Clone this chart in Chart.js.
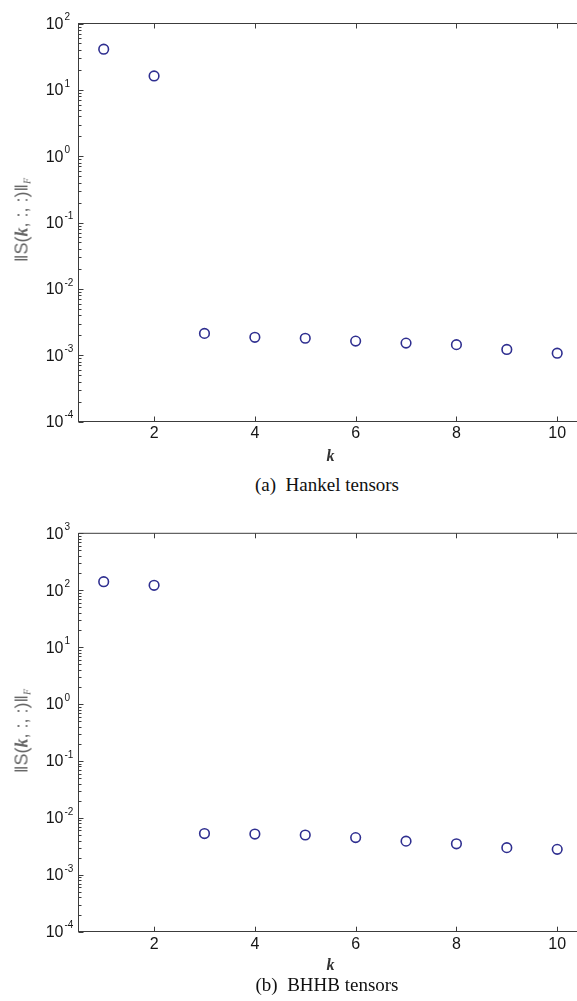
<!DOCTYPE html>
<html>
<head>
<meta charset="utf-8">
<script src="https://cdn.jsdelivr.net/npm/chart.js@4.4.1/dist/chart.umd.min.js"></script>
<style>
  html, body { margin:0; padding:0; background:#fff; }
  body { width:577px; height:1001px; overflow:hidden; position:relative; }
  canvas { position:absolute; left:0; }
  .ylab { position:absolute; left:22px; white-space:nowrap; font-family:"Liberation Sans", Arial, sans-serif;
          font-size:18px; color:#666; transform:translate(-50%,-50%) rotate(-90deg); }
  .ylab i { font-family:"Liberation Serif", serif; font-weight:bold; }
  .ylab sub { font-size:10px; font-style:italic; font-family:"Liberation Serif", serif; vertical-align:-3px; }
  .cap { position:absolute; left:327px; transform:translate(-50%,-50%); white-space:nowrap;
         font-family:"Liberation Serif", "Times New Roman", serif; font-size:19px; color:#111; }
</style>
</head>
<body>
<canvas id="c1" width="600" height="470" style="top:0"></canvas>
<div class="ylab" style="top:220px">‖S(<i>k</i>, :, :)‖<sub>F</sub></div>
<div class="cap" style="top:485px">(a)&nbsp; Hankel tensors</div>

<canvas id="c2" width="600" height="480" style="top:500px"></canvas>
<div class="ylab" style="top:731px">‖S(<i>k</i>, :, :)‖<sub>F</sub></div>
<div class="cap" style="top:985px">(b)&nbsp; BHHB tensors</div>

<script>
// ---- data ----
const K_VALUES = [1, 2, 3, 4, 5, 6, 7, 8, 9, 10];
const HANKEL_NORMS = [41, 16.2, 2.13e-3, 1.86e-3, 1.80e-3, 1.63e-3, 1.52e-3, 1.44e-3, 1.22e-3, 1.07e-3];
const BHHB_NORMS = [141, 122, 5.3e-3, 5.2e-3, 5.0e-3, 4.5e-3, 3.9e-3, 3.5e-3, 3.0e-3, 2.8e-3];
const X_TICKS = [2, 4, 6, 8, 10];
const Y_EXPONENTS_A = [-4, -3, -2, -1, 0, 1, 2];
const Y_EXPONENTS_B = [-4, -3, -2, -1, 0, 1, 2, 3];

const AXIS_COLOR = '#3c3c3c';
const MARKER_COLOR = '#2f2f90';
const LABEL_COLOR = '#151515';
const SANS = '"Liberation Sans", Arial, sans-serif';

const frameTicks = {
  id: 'frameTicks',
  afterDraw(chart) {
    const { ctx, chartArea: a, scales: { x, y } } = chart;
    ctx.save();
    ctx.strokeStyle = AXIS_COLOR;
    ctx.lineWidth = 1;
    ctx.beginPath();
    ctx.moveTo(a.left, a.top); ctx.lineTo(a.right, a.top); ctx.lineTo(a.right, a.bottom);
    ctx.stroke();
    ctx.beginPath();
    x.ticks.forEach(t => {
      const px = Math.round(x.getPixelForValue(t.value)) + 0.5;
      ctx.moveTo(px, a.bottom); ctx.lineTo(px, a.bottom - 5);
      ctx.moveTo(px, a.top); ctx.lineTo(px, a.top + 5);
    });
    y.ticks.forEach(t => {
      const py = Math.round(y.getPixelForValue(t.value)) + 0.5;
      const len = t.major ? 5 : 3;
      ctx.moveTo(a.left, py); ctx.lineTo(a.left + len, py);
      ctx.moveTo(a.right, py); ctx.lineTo(a.right - len, py);
    });
    ctx.stroke();
    // decade labels 10^n
    ctx.fillStyle = LABEL_COLOR;
    y.ticks.filter(t => t.major).forEach(t => {
      const py = y.getPixelForValue(t.value);
      const e = Math.round(Math.log10(t.value));
      ctx.font = '16px ' + SANS;
      ctx.textAlign = 'right'; ctx.textBaseline = 'middle';
      ctx.fillText('10', a.left - 15, py + 1);
      ctx.font = '10px ' + SANS;
      ctx.textAlign = 'left';
      ctx.fillText(String(e), a.left - 14, py - 6);
    });
    ctx.restore();
  }
};

function makeChart(id, values, exps, pad, tickPad, titlePad) {
  const yMin = Math.pow(10, exps[0]);
  const yMax = Math.pow(10, exps[exps.length - 1]);
  return new Chart(document.getElementById(id), {
    type: 'scatter',
    data: {
      datasets: [{
        data: K_VALUES.map((k, i) => ({ x: k, y: values[i] })),
        pointStyle: 'circle',
        pointRadius: 4.8,
        pointHoverRadius: 4.8,
        pointBorderWidth: 1.6,
        borderColor: MARKER_COLOR,
        backgroundColor: 'rgba(0,0,0,0)',
        showLine: false
      }]
    },
    options: {
      responsive: false,
      animation: false,
      devicePixelRatio: 1,
      layout: { padding: pad },
      plugins: { legend: { display: false }, tooltip: { enabled: false } },
      events: [],
      scales: {
        x: {
          type: 'linear', position: 'bottom', min: 0.5, max: 10.5,
          afterBuildTicks: s => { s.ticks = X_TICKS.map(v => ({ value: v })); },
          grid: { display: false, drawTicks: false },
          border: { display: true, color: AXIS_COLOR, width: 1 },
          ticks: {
            padding: tickPad, maxRotation: 0,
            color: LABEL_COLOR,
            font: { family: SANS, size: 16, lineHeight: 1 }
          },
          title: {
            display: true, text: 'k', color: '#333',
            padding: { top: titlePad, bottom: 0 },
            font: { family: '"Liberation Serif", "Times New Roman", serif', size: 16, style: 'italic', weight: 'bold', lineHeight: 1 }
          }
        },
        y: {
          type: 'logarithmic', position: 'left', min: yMin, max: yMax,
          afterBuildTicks: s => {
            const ticks = [];
            for (let i = 0; i < exps.length; i++) {
              const base = Math.pow(10, exps[i]);
              ticks.push({ value: base, major: true });
              if (i < exps.length - 1) for (let m = 2; m <= 9; m++) ticks.push({ value: m * base, major: false });
            }
            s.ticks = ticks;
          },
          grid: { display: false, drawTicks: false },
          border: { display: true, color: AXIS_COLOR, width: 1 },
          ticks: { display: false }
        }
      }
    },
    plugins: [frameTicks]
  });
}

// chart (a): area left 78.5, top 23.5, right 582.4, bottom 421.5
makeChart('c1', HANKEL_NORMS, Y_EXPONENTS_A,
  { left: 78.5, top: 23.5, right: 17.6, bottom: 470 - 421.5 - (16 + 8 + 16 + 3) }, 4, 3);
// chart (b): area top 533.3 -> 33.3, bottom 931.7 -> 431.7
makeChart('c2', BHHB_NORMS, Y_EXPONENTS_B,
  { left: 78.5, top: 33.3, right: 17.6, bottom: 480 - 431.7 - (16 + 10 + 16 + 0) }, 5, 0);
</script>
</body>
</html>
